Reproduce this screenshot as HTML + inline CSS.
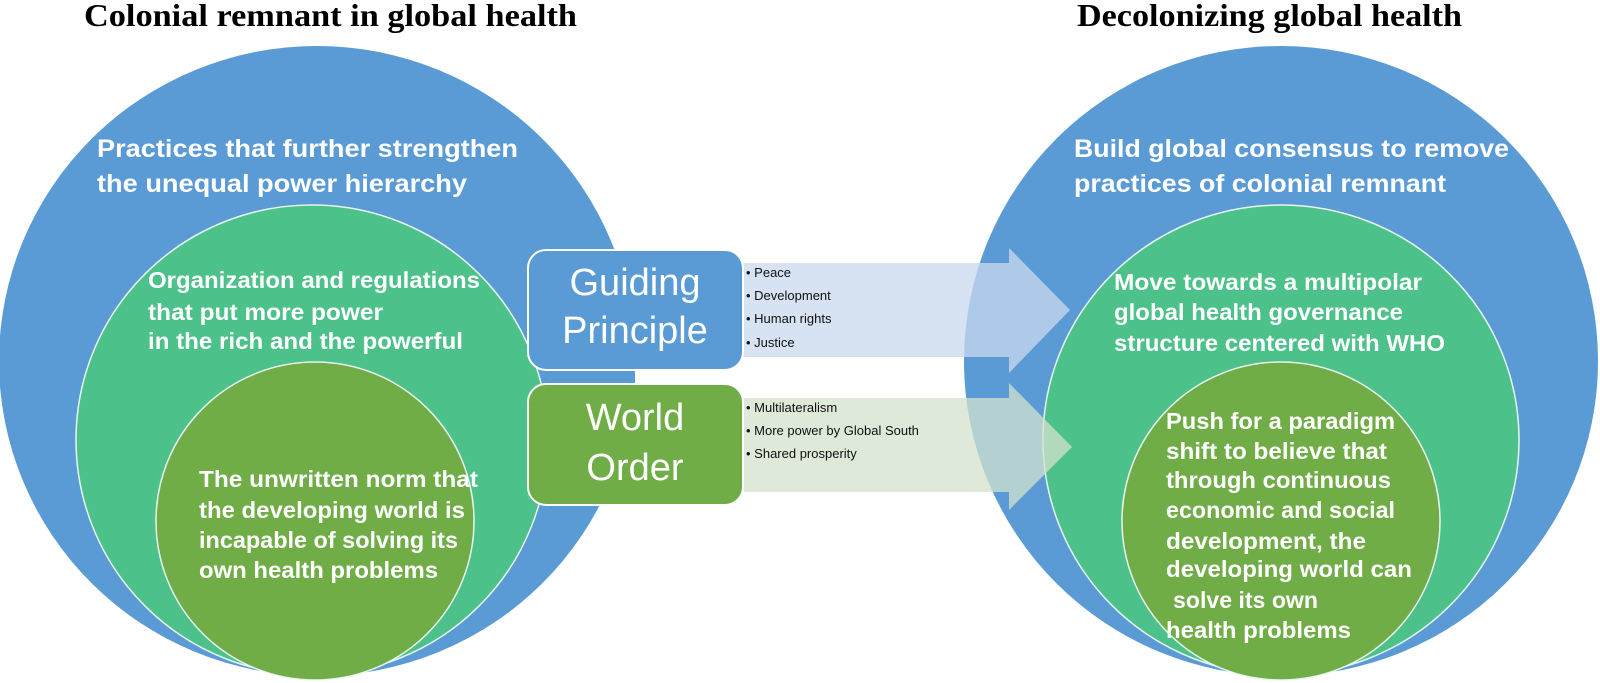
<!DOCTYPE html>
<html><head><meta charset="utf-8"><style>
html,body{margin:0;padding:0;background:#fff;}
svg{display:block;}
.t{font-family:"Liberation Sans",sans-serif;font-weight:bold;fill:#fff;font-size:23px;}
.tb{font-family:"Liberation Sans",sans-serif;font-weight:bold;fill:#fff;font-size:25px;}
.b{font-family:"Liberation Sans",sans-serif;fill:#111;font-size:13px;}
.h{font-family:"Liberation Serif",serif;font-weight:bold;fill:#000;font-size:32px;}
.bx{font-family:"Liberation Sans",sans-serif;fill:#fff;font-size:38px;}
</style></head><body>
<svg width="1600" height="683" viewBox="0 0 1600 683" xmlns="http://www.w3.org/2000/svg">
<text class="h" x="84" y="26" textLength="493" lengthAdjust="spacingAndGlyphs">Colonial remnant in global health</text>
<text class="h" x="1077" y="26" textLength="385" lengthAdjust="spacingAndGlyphs">Decolonizing global health</text>

<!-- left circles -->
<ellipse cx="317" cy="361" rx="318" ry="315" fill="#5b9bd5"/>
<ellipse cx="312" cy="440" rx="236" ry="235" fill="#4cc28a" stroke="#e8f5ee" stroke-width="1.5"/>
<ellipse cx="315" cy="521" rx="159" ry="159" fill="#70ad47" stroke="#e8f5ee" stroke-width="1.5"/>
<rect x="546" y="372" width="89" height="11" fill="#5b9bd5"/>

<!-- right circles -->
<ellipse cx="1281" cy="361" rx="317" ry="315" fill="#5b9bd5"/>
<ellipse cx="1281" cy="440" rx="238" ry="235" fill="#4cc28a" stroke="#e8f5ee" stroke-width="1.5"/>
<ellipse cx="1281" cy="521" rx="159" ry="159" fill="#70ad47" stroke="#e8f5ee" stroke-width="1.5"/>

<!-- arrows -->
<polygon points="743,263 1009,263 1009,248 1070,310 1009,373 1009,357 743,357" fill="#c9d9ee" fill-opacity="0.75"/>
<polygon points="743,398 1009,398 1009,383 1072,447 1009,510 1009,492 743,492" fill="#d3e2cd" fill-opacity="0.75"/>

<!-- boxes -->
<rect x="528" y="250" width="215" height="120" rx="18" fill="#5b9bd5" stroke="#fff" stroke-width="2"/>
<rect x="528" y="384" width="215" height="121" rx="18" fill="#70ad47" stroke="#fff" stroke-width="2"/>
<text class="bx" x="635" y="295" text-anchor="middle">Guiding</text>
<text class="bx" x="635" y="343" text-anchor="middle">Principle</text>
<text class="bx" x="635" y="430" text-anchor="middle">World</text>
<text class="bx" x="635" y="480" text-anchor="middle">Order</text>

<text class="b" x="746" y="277">• Peace</text>
<text class="b" x="746" y="300">• Development</text>
<text class="b" x="746" y="323">• Human rights</text>
<text class="b" x="746" y="347">• Justice</text>
<text class="b" x="746" y="412">• Multilateralism</text>
<text class="b" x="746" y="435">• More power by Global South</text>
<text class="b" x="746" y="458">• Shared prosperity</text>

<!-- left texts -->
<text class="tb" x="97" y="157" textLength="421" lengthAdjust="spacingAndGlyphs">Practices that further strengthen</text>
<text class="tb" x="97" y="192" textLength="370" lengthAdjust="spacingAndGlyphs">the unequal power hierarchy</text>
<text class="t" x="148" y="288" textLength="332" lengthAdjust="spacingAndGlyphs">Organization and regulations</text>
<text class="t" x="148" y="320" textLength="235" lengthAdjust="spacingAndGlyphs">that put more power</text>
<text class="t" x="148" y="349" textLength="315" lengthAdjust="spacingAndGlyphs">in the rich and the powerful</text>
<text class="t" x="199" y="487" textLength="279" lengthAdjust="spacingAndGlyphs">The unwritten norm that</text>
<text class="t" x="199" y="518" textLength="266" lengthAdjust="spacingAndGlyphs">the developing world is</text>
<text class="t" x="199" y="548" textLength="259" lengthAdjust="spacingAndGlyphs">incapable of solving its</text>
<text class="t" x="199" y="578" textLength="239" lengthAdjust="spacingAndGlyphs">own health problems</text>

<!-- right texts -->
<text class="tb" x="1074" y="157" textLength="435" lengthAdjust="spacingAndGlyphs">Build global consensus to remove</text>
<text class="tb" x="1074" y="192" textLength="372" lengthAdjust="spacingAndGlyphs">practices of colonial remnant</text>
<text class="t" x="1114" y="290" textLength="308" lengthAdjust="spacingAndGlyphs">Move towards a multipolar</text>
<text class="t" x="1114" y="320" textLength="289" lengthAdjust="spacingAndGlyphs">global health governance</text>
<text class="t" x="1114" y="351" textLength="331" lengthAdjust="spacingAndGlyphs">structure centered with WHO</text>
<text class="t" x="1166" y="429" textLength="229" lengthAdjust="spacingAndGlyphs">Push for a paradigm</text>
<text class="t" x="1166" y="459" textLength="221" lengthAdjust="spacingAndGlyphs">shift to believe that</text>
<text class="t" x="1166" y="488" textLength="225" lengthAdjust="spacingAndGlyphs">through continuous</text>
<text class="t" x="1166" y="518" textLength="229" lengthAdjust="spacingAndGlyphs">economic and social</text>
<text class="t" x="1166" y="549" textLength="200" lengthAdjust="spacingAndGlyphs">development, the</text>
<text class="t" x="1166" y="577" textLength="246" lengthAdjust="spacingAndGlyphs">developing world can</text>
<text class="t" x="1173" y="608" textLength="145" lengthAdjust="spacingAndGlyphs">solve its own</text>
<text class="t" x="1166" y="638" textLength="185" lengthAdjust="spacingAndGlyphs">health problems</text>
</svg>
</body></html>
